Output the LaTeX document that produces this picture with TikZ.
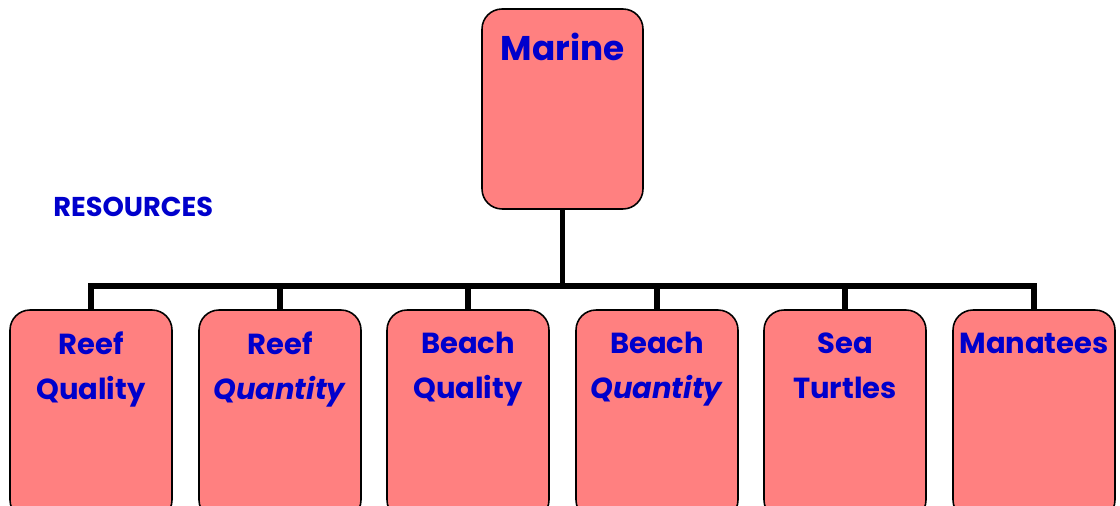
\documentclass[tikz,border=0pt]{standalone}
\usepackage{fontspec}
\setmainfont{Poppins}
\usepackage{tikz}
\usetikzlibrary{positioning}

\definecolor{boxred}{RGB}{255,128,128}
\definecolor{textblue}{RGB}{0,0,204}

\begin{document}
\begin{tikzpicture}[x=0.02cm, y=-0.02cm,
    node distance=0.4cm,
    top/.style={rectangle, draw, fill=boxred, line width=0.9pt, rounded corners=0.4cm, minimum width=3.22cm, minimum height=4cm},
    leaf/.style={rectangle, draw, fill=boxred, line width=0.9pt, rounded corners=0.4cm, minimum width=3.24cm, minimum height=4.2cm},
    lbl/.style={text=textblue, align=center, inner sep=0pt, font=\bfseries\fontsize{16.5}{26}\selectfont},
    bus/.style={draw, line width=3pt}]

    \clip (0,0) rectangle (1120,506);

    \node [top] (marine) at (562.5,109) {};
    \node [lbl, anchor=north, font=\bfseries\fontsize{19.5}{26}\selectfont] (marinetxt) at ([yshift=-0.48cm]marine.north) {Marine};

    \node [lbl, anchor=west, font=\bfseries\fontsize{15.5}{16}\selectfont] (resources) at (53,207) {RESOURCES};

    \node [leaf] (rq) at (91,415) {};
    \node [leaf] (rn) at (280,415) {};
    \node [leaf] (bq) at (468,415) {};
    \node [leaf] (bn) at (657,415) {};
    \node [leaf] (st) at (845,415) {};
    \node [leaf] (ma) at (1034,415) {};

    \node [lbl, anchor=north] (rqtxt) at ([yshift=-0.44cm]rq.north) {\vphantom{Bh}Reef\\Quality};
    \node [lbl, anchor=north] (rntxt) at ([yshift=-0.44cm]rn.north) {\vphantom{Bh}Reef\\\textit{Quantity}};
    \node [lbl, anchor=north] (bqtxt) at ([yshift=-0.44cm]bq.north) {\vphantom{Bh}Beach\\Quality};
    \node [lbl, anchor=north] (bntxt) at ([yshift=-0.44cm]bn.north) {\vphantom{Bh}Beach\\\textit{Quantity}};
    \node [lbl, anchor=north] (sttxt) at ([yshift=-0.44cm]st.north) {\vphantom{Bh}Sea\\Turtles};
    \node [lbl, anchor=north] (matxt) at ([yshift=-0.44cm]ma.north) {\vphantom{Bh}Manatees};

    \coordinate (hub) at (562.5,286);
    \path [bus] (marine) -- (hub);
    \foreach \n in {rq,rn,bq,bn,st,ma}
        \path [bus] (hub) -| (\n.north);
\end{tikzpicture}
\end{document}
